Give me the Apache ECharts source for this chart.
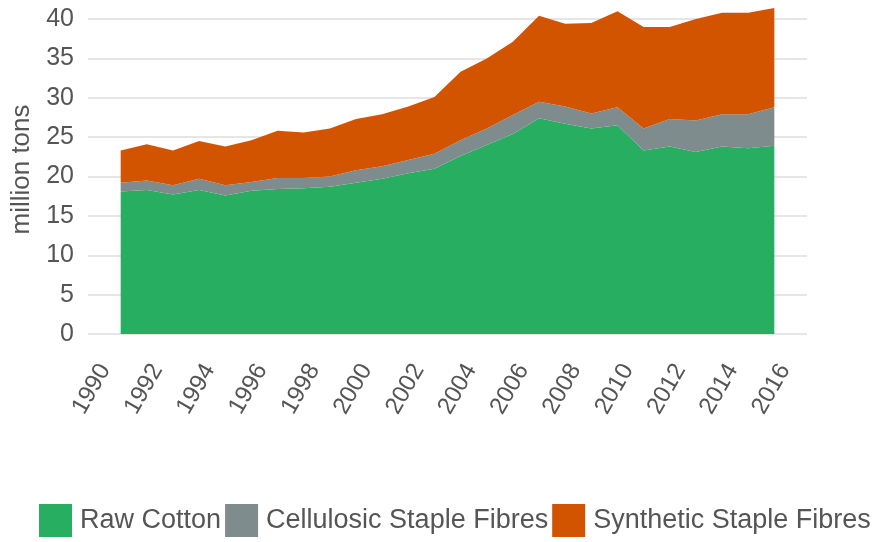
<!DOCTYPE html>
<html>
<head>
<meta charset="utf-8">
<script src="https://cdn.jsdelivr.net/npm/echarts@6/dist/echarts.min.js"></script>
<style>html,body{margin:0;padding:0;background:#fff}#c{width:875px;height:542px}</style>
</head>
<body>
<div id="c"></div>
<script>
const years = [1991,1992,1993,1994,1995,1996,1997,1998,1999,2000,2001,2002,2003,2004,2005,2006,2007,2008,2009,2010,2011,2012,2013,2014,2015,2016];
const rawCotton = [18.1,18.3,17.7,18.3,17.6,18.2,18.4,18.5,18.7,19.2,19.7,20.4,21.0,22.6,24.0,25.4,27.4,26.7,26.1,26.5,23.3,23.8,23.1,23.8,23.6,23.9];
const cellulosic = [1.1,1.2,1.2,1.4,1.3,1.1,1.4,1.3,1.3,1.6,1.6,1.7,1.9,2.0,2.1,2.4,2.1,2.2,1.9,2.3,2.8,3.5,4.0,4.1,4.3,4.9];
const synthetic = [4.1,4.6,4.4,4.8,4.9,5.3,6.0,5.8,6.1,6.5,6.6,6.8,7.2,8.7,8.9,9.3,10.9,10.5,11.5,12.2,12.9,11.7,12.9,12.9,12.9,12.6];
const xTicks = [1990,1992,1994,1996,1998,2000,2002,2004,2006,2008,2010,2012,2014,2016];
const seriesNames = ['Raw Cotton','Cellulosic Staple Fibres','Synthetic Staple Fibres'];
const colors = ['#27AE60','#7F8C8D','#D35400'];

const chart = echarts.init(document.getElementById('c'), null, {renderer:'canvas'});
const FONT = 'Liberation Sans';
function mk(name, vals, color){
  return {
    name, type:'line', stack:'total', clip:false, showSymbol:false, symbol:'none',
    // value first so that the stack is applied to the value dimension
    data: years.map((y,i)=>[vals[i], y]),
    encode:{x:1, y:0},
    lineStyle:{width:0}, areaStyle:{color, opacity:1}, itemStyle:{color},
    emphasis:{disabled:true}, silent:true
  };
}
chart.setOption({
  animation:false,
  color: colors,
  grid:{left:88, right:68, top:19, bottom:208, containLabel:false},
  xAxis:{
    type:'value', min:1989.75, max:2017.25,
    axisLine:{show:false}, axisTick:{show:false}, splitLine:{show:false},
    axisLabel:{
      customValues: xTicks, rotate:60, margin:26, fontSize:24, color:'#555',
      fontFamily:FONT, verticalAlign:'top', formatter:v=>String(v)
    }
  },
  yAxis:{
    type:'value', min:0, max:40, interval:5,
    name:'million tons', nameLocation:'middle', nameGap:48,
    nameTextStyle:{fontSize:26, color:'#555', fontFamily:FONT, padding:[0,0,0,14]},
    axisLine:{show:false}, axisTick:{show:false},
    axisLabel:{fontSize:25, color:'#555', fontFamily:FONT, margin:14},
    splitLine:{lineStyle:{color:'#e6e6e6', width:2}}
  },
  legend:{
    data: seriesNames, bottom:0, left:34, width:860, padding:[5,0,5,5], icon:'rect', itemWidth:33, itemHeight:33,
    itemGap:4, textStyle:{fontSize:27, color:'#555', fontFamily:FONT, padding:[0,0,0,3]}, selectedMode:false
  },
  series:[mk(seriesNames[0], rawCotton, colors[0]), mk(seriesNames[1], cellulosic, colors[1]), mk(seriesNames[2], synthetic, colors[2])]
});
</script>
</body>
</html>
